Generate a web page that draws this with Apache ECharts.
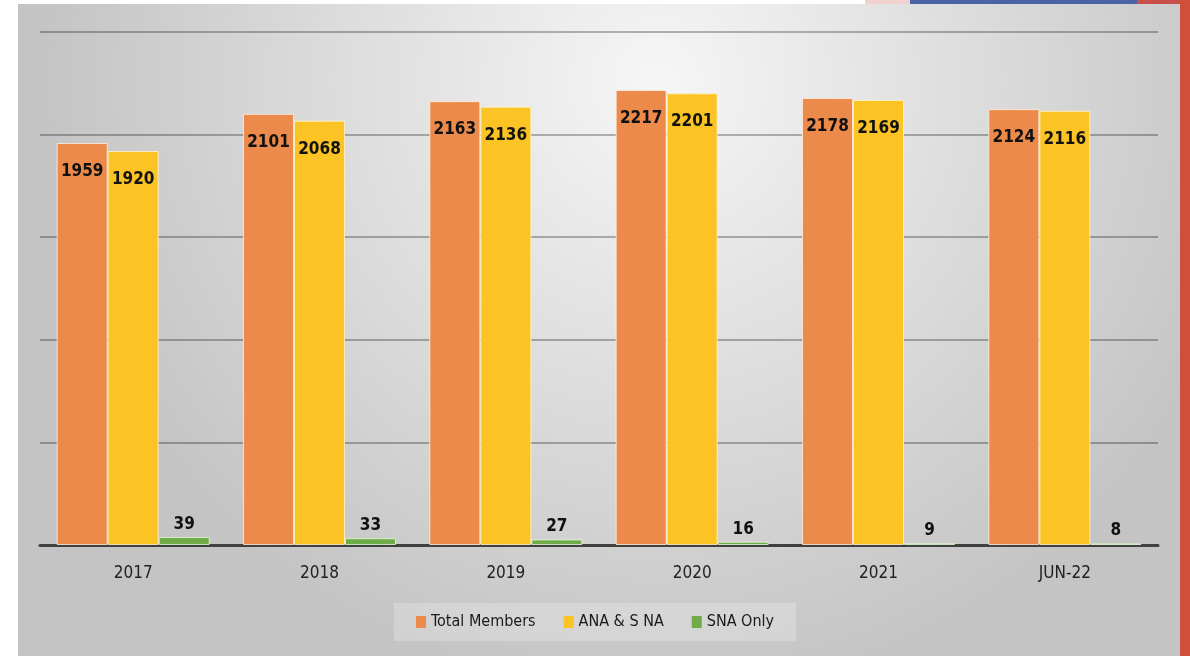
<!DOCTYPE html>
<html>
<head>
<meta charset="utf-8">
<script src="https://cdn.jsdelivr.net/npm/echarts@6/dist/echarts.min.js"></script>
<style>
  html, body { margin: 0; padding: 0; background: #fff; }
  #chart { width: 1190px; height: 656px; }
</style>
</head>
<body>
<div id="chart"></div>
<script>
  const categories = ['2017', '2018', '2019', '2020', '2021', 'JUN-22']
  const totalMembers = [1959, 2101, 2163, 2217, 2178, 2124]
  const anaSna = [1920, 2068, 2136, 2201, 2169, 2116]
  const snaOnly = [39, 33, 27, 16, 9, 8]

  // narrow font like the slide's Calibri
  const FONT = "'DejaVu Sans Condensed', 'Liberation Sans Narrow', sans-serif"

  const chart = echarts.init(document.getElementById('chart'))

  const insideLabel = {
    show: true,
    position: 'insideTop',
    distance: 20,
    color: '#111',
    fontFamily: FONT,
    fontWeight: 'bold',
    fontSize: 17
  }

  chart.setOption({
    backgroundColor: '#ffffff',
    animation: false,
    graphic: [
      {
        type: 'rect',
        z: -10,
        shape: { x: 18, y: 4, width: 1162, height: 652 },
        style: {
          fill: {
            type: 'radial', x: 0.55, y: 0.12, r: 0.95,
            colorStops: [
              { offset: 0, color: '#f6f6f6' },
              { offset: 1, color: '#c4c4c4' }
            ]
          }
        }
      },
      { type: 'rect', z: -9, shape: { x: 865, y: 0, width: 45, height: 4 }, style: { fill: '#f2d2ce' } },
      { type: 'rect', z: -9, shape: { x: 910, y: 0, width: 227, height: 4 }, style: { fill: '#4a63a8' } },
      { type: 'rect', z: -9, shape: { x: 1137, y: 0, width: 53, height: 4 }, style: { fill: '#c9504a' } },
      { type: 'rect', z: -9, shape: { x: 1180, y: 0, width: 10, height: 656 }, style: { fill: '#cf4f3b' } }
    ],
    grid: { left: 40, right: 32, top: 32, bottom: 111 },
    legend: {
      top: 603,
      left: 'center',
      padding: [11, 22],
      backgroundColor: 'rgba(255,255,255,0.22)',
      itemWidth: 10,
      itemHeight: 12,
      itemGap: 28,
      icon: 'rect',
      itemStyle: { borderWidth: 0 },
      textStyle: { fontFamily: FONT, fontSize: 16, color: '#1a1a1a' },
      data: ['Total Members', 'ANA & S NA', 'SNA Only']
    },
    xAxis: {
      type: 'category',
      data: categories,
      axisLine: { lineStyle: { color: '#404040', width: 3 } },
      axisTick: { show: false },
      axisLabel: { margin: 20, color: '#222', fontFamily: FONT, fontSize: 17 }
    },
    yAxis: {
      type: 'value',
      min: 0,
      max: 2500,
      interval: 500,
      axisLabel: { show: false },
      axisLine: { show: false },
      axisTick: { show: false },
      splitLine: { lineStyle: { color: 'rgba(0,0,0,0.28)', width: 2 } }
    },
    series: [
      {
        name: 'Total Members',
        type: 'bar',
        data: totalMembers,
        barWidth: 51,
        barGap: '0%',
        itemStyle: { color: '#eb8a4b', borderColor: 'rgba(255,240,220,0.8)', borderWidth: 1 },
        label: insideLabel
      },
      {
        name: 'ANA & S NA',
        type: 'bar',
        data: anaSna,
        barWidth: 51,
        itemStyle: { color: '#fbc323', borderColor: 'rgba(255,245,210,0.8)', borderWidth: 1 },
        label: insideLabel
      },
      {
        name: 'SNA Only',
        type: 'bar',
        data: snaOnly,
        barWidth: 51,
        itemStyle: { color: '#6fab47', borderColor: 'rgba(230,250,220,0.8)', borderWidth: 1 },
        label: Object.assign({}, insideLabel, { position: 'top', distance: 4 })
      }
    ]
  })
</script>
</body>
</html>
